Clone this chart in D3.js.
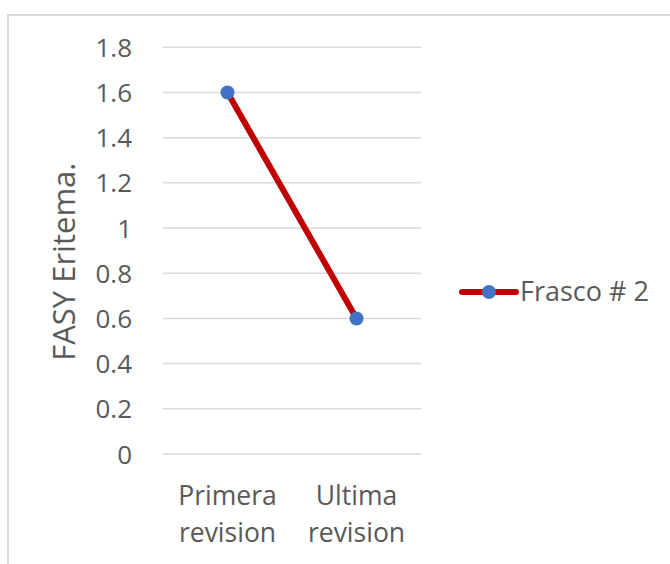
<!DOCTYPE html>
<html>
<head>
<meta charset="utf-8">
<script src="https://cdn.jsdelivr.net/npm/d3@7"></script>
<style>
  html, body { margin: 0; padding: 0; background: #fff; }
  svg { display: block; }
  text { font-family: "Open Sans", "Liberation Sans", sans-serif; fill: #595959; }
</style>
</head>
<body>
<svg id="chart" width="670" height="564"></svg>
<script>
// Chart data
const categories = [["Primera", "revision"], ["Ultima", "revision"]];
const seriesName = "Frasco # 2";
const values = [1.6, 0.6];
const yTicks = [0, 0.2, 0.4, 0.6, 0.8, 1, 1.2, 1.4, 1.6, 1.8];
const yTitle = "FASY Eritema.";

const W = 670, H = 564;
const svg = d3.select("#chart");
const tickSize = 26, catSize = 26.5, legendSize = 27, titleSize = 31;

// chart area frame
svg.append("rect")
  .attr("x", 8).attr("y", 15)
  .attr("width", W + 10).attr("height", H + 10)
  .attr("fill", "#fff")
  .attr("stroke", "#d9d9d9").attr("stroke-width", 2);

const plot = { left: 163, right: 421, top: 47.3, bottom: 454 };

const x = d3.scaleBand()
  .domain(categories.map((d, i) => i))
  .range([plot.left, plot.right]);

const y = d3.scaleLinear()
  .domain([0, 1.8])
  .range([plot.bottom, plot.top]);

// horizontal gridlines
svg.append("g")
  .selectAll("line")
  .data(yTicks)
  .join("line")
  .attr("x1", plot.left).attr("x2", plot.right)
  .attr("y1", d => y(d)).attr("y2", d => y(d))
  .attr("stroke", "#d9d9d9").attr("stroke-width", 1.5);

// y tick labels
const yAxis = d3.axisLeft(y).tickValues(yTicks).tickSize(0).tickPadding(0)
  .tickFormat(d => String(d));
const gy = svg.append("g")
  .attr("transform", `translate(${plot.left - 31},0)`)
  .call(yAxis);
gy.select(".domain").remove();
gy.selectAll("text")
  .attr("font-size", tickSize)
  .attr("font-family", null)
  .attr("fill", "#595959")
  .attr("dy", "0.35em");

// x category labels
const gx = svg.append("g");
categories.forEach((lines, i) => {
  const t = gx.append("text")
    .attr("text-anchor", "middle")
    .attr("font-size", catSize)
    .attr("x", x(i) + x.bandwidth() / 2)
    .attr("y", 505);
  lines.forEach((ln, j) => {
    t.append("tspan")
      .attr("x", x(i) + x.bandwidth() / 2)
      .attr("dy", j === 0 ? 0 : 37)
      .text(ln);
  });
});

// y axis title
svg.append("text")
  .attr("transform", `translate(75,${(plot.top + plot.bottom) / 2 + 11}) rotate(-90)`)
  .attr("text-anchor", "middle")
  .attr("font-size", titleSize)
  .text(yTitle);

// series line
const line = d3.line()
  .x((d, i) => x(i) + x.bandwidth() / 2)
  .y(d => y(d));

svg.append("path")
  .datum(values)
  .attr("d", line)
  .attr("fill", "none")
  .attr("stroke", "#C00000")
  .attr("stroke-width", 6)
  .attr("stroke-linecap", "round");

svg.append("g")
  .selectAll("circle")
  .data(values)
  .join("circle")
  .attr("cx", (d, i) => x(i) + x.bandwidth() / 2)
  .attr("cy", d => y(d))
  .attr("r", 7)
  .attr("fill", "#4472C4");

// legend
const lg = svg.append("g").attr("transform", "translate(0,292)");
lg.append("line")
  .attr("x1", 462).attr("x2", 516)
  .attr("stroke", "#C00000").attr("stroke-width", 6)
  .attr("stroke-linecap", "round");
lg.append("circle").attr("cx", 489).attr("r", 7).attr("fill", "#4472C4");
lg.append("text")
  .attr("x", 520).attr("y", 0).attr("dy", "0.35em")
  .attr("font-size", legendSize)
  .text(seriesName);
</script>
</body>
</html>
